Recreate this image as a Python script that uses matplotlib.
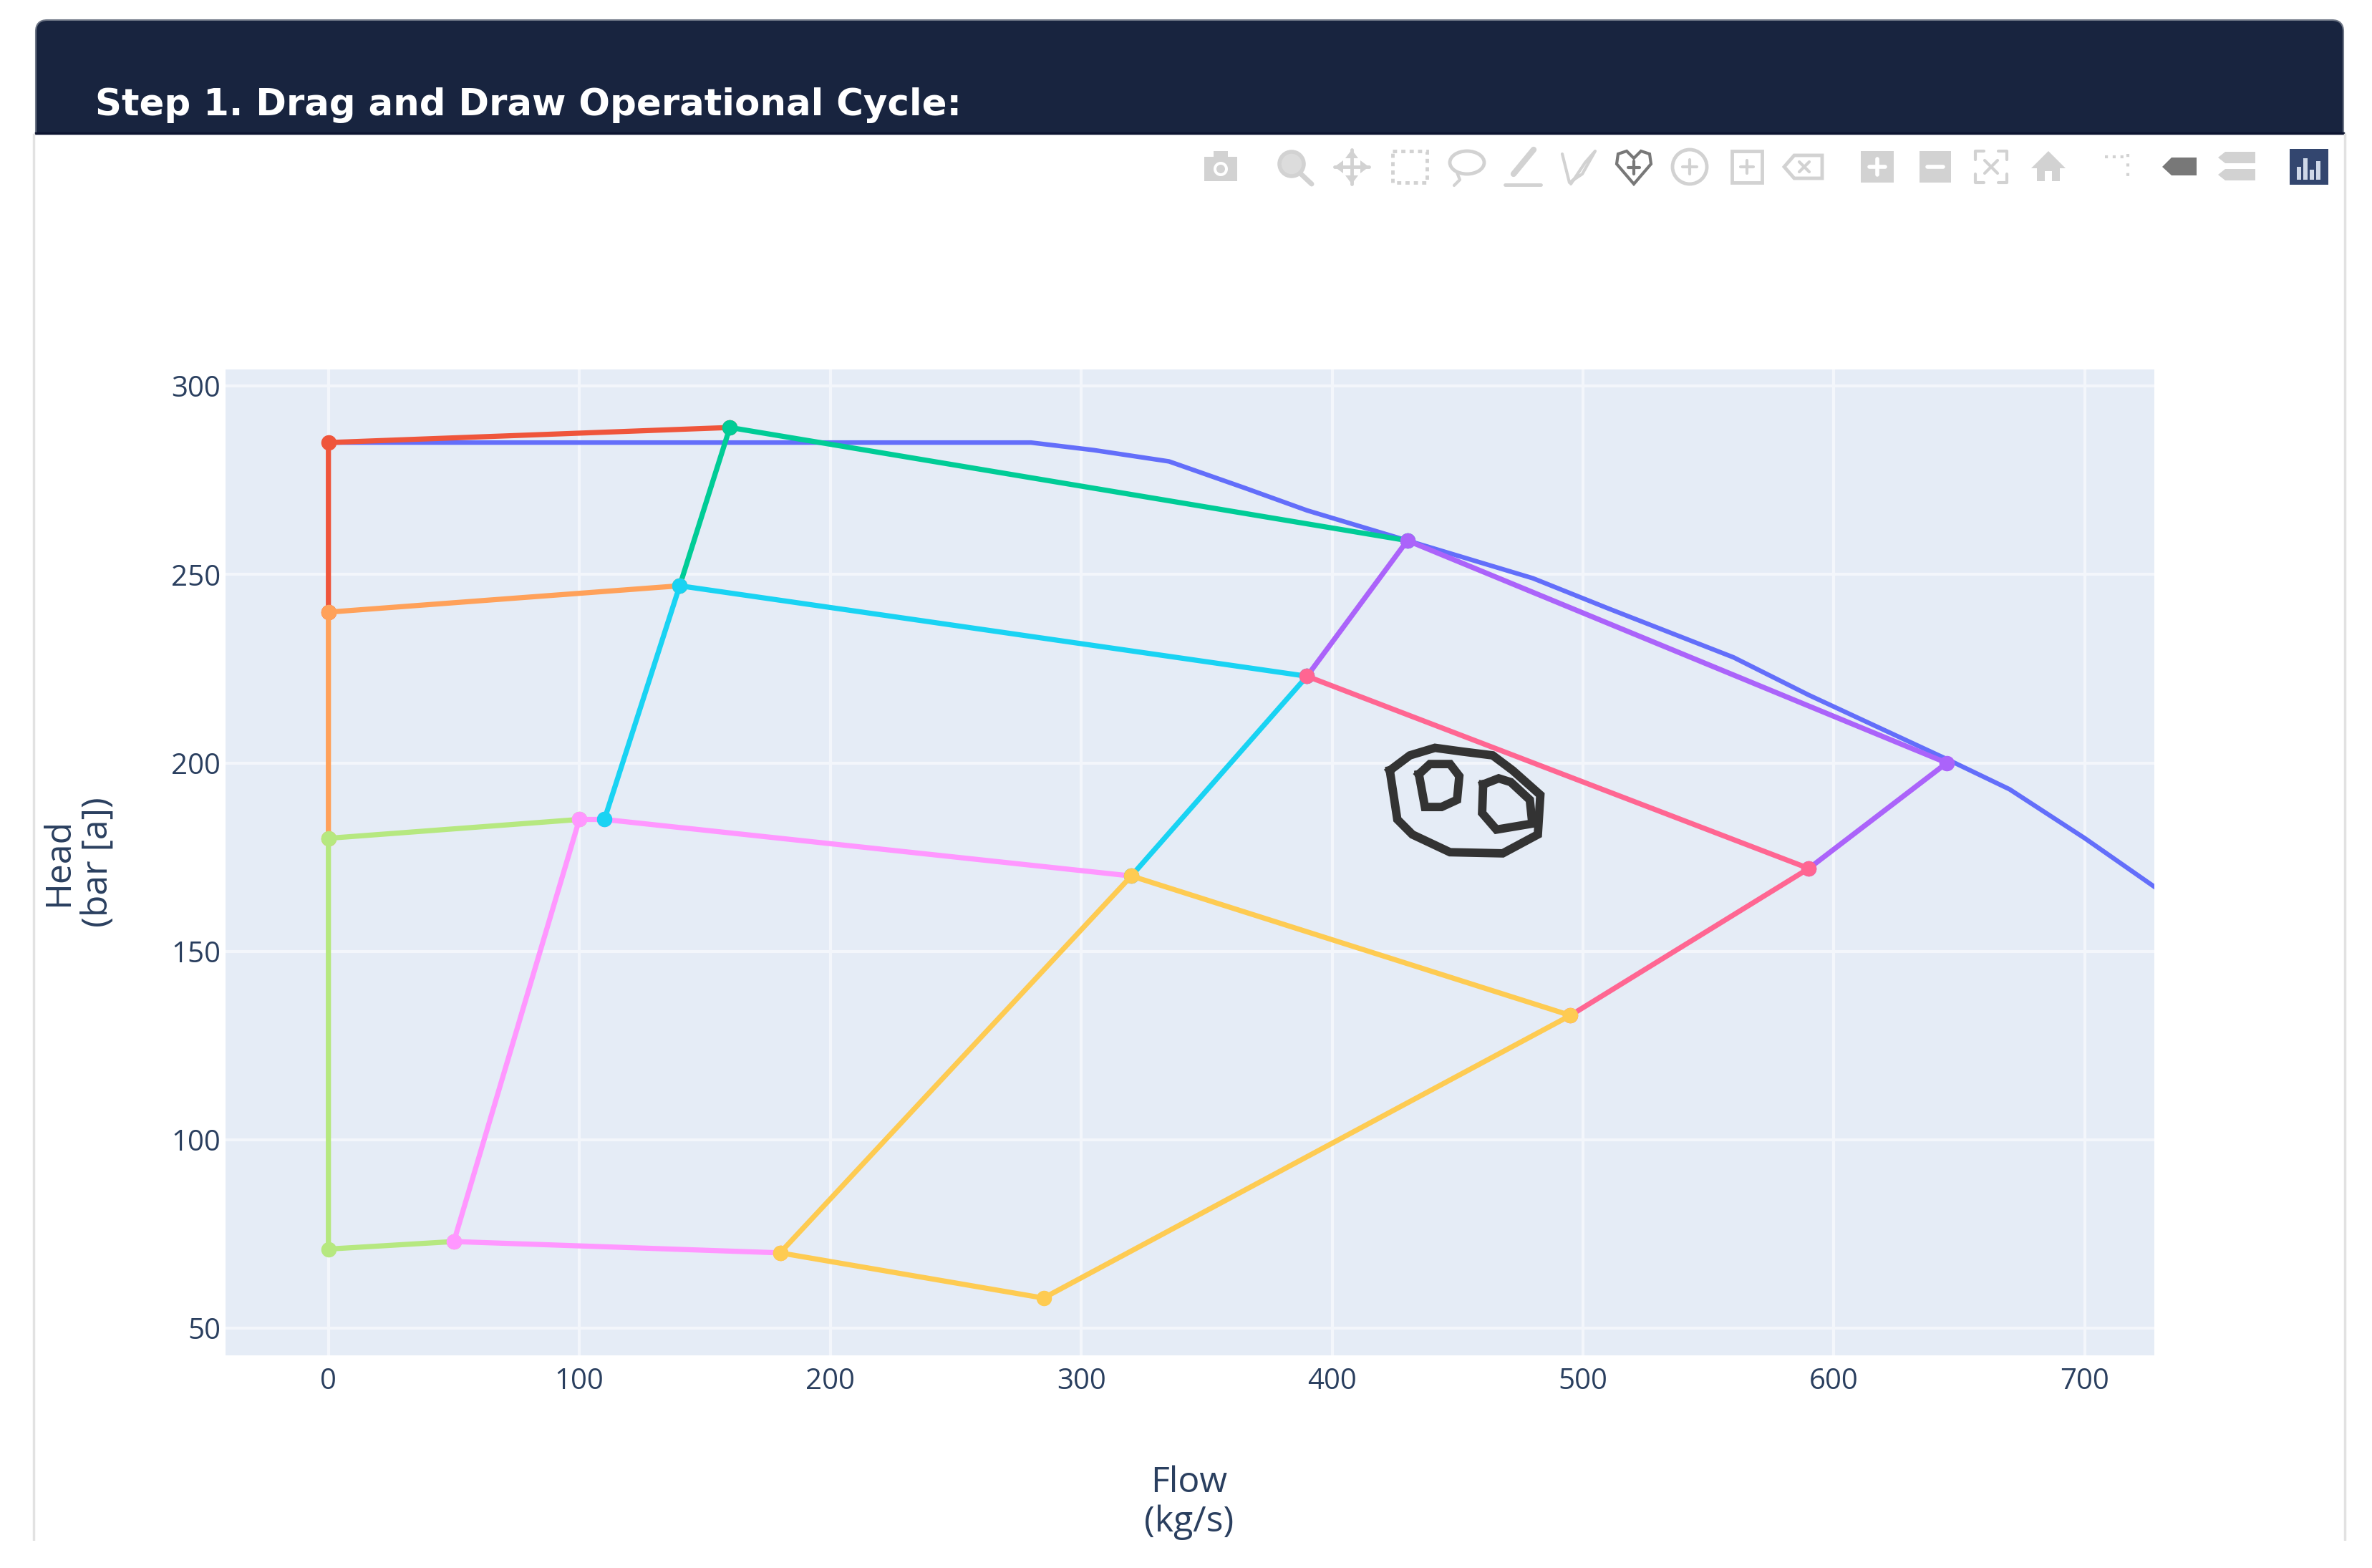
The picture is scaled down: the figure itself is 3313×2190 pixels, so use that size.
import matplotlib as mpl
mpl.use("Agg")
import matplotlib.pyplot as plt
from matplotlib.patches import Rectangle, FancyBboxPatch, Circle, Ellipse, Polygon

plt.rcParams['font.family'] = ['Open Sans', 'DejaVu Sans']

TITLE = "Step 1. Drag and Draw Operational Cycle:"
X_LABEL = "Flow\n(kg/s)"
Y_LABEL = "Head\n(bar [a])"
X_TICKS = [0, 100, 200, 300, 400, 500, 600, 700]
Y_TICKS = [50, 100, 150, 200, 250, 300]

# pump curve
curve_x = [0, 280, 305, 335, 365, 390, 430, 480, 510, 560, 590, 645, 670, 700, 728]
curve_y = [285, 285, 283, 280, 273, 267, 259, 249, 241, 228, 218, 201, 193, 180, 167]

# cycle segments
red_x = [0, 0, 160]
red_y = [240, 285, 289]
green_x = [140, 160, 430]
green_y = [247, 289, 259]
purple_x = [390, 430, 645, 590]
purple_y = [223, 259, 200, 172]
orange_x = [0, 0, 140]
orange_y = [180, 240, 247]
cyan_x = [110, 140, 390, 320]
cyan_y = [185, 247, 223, 170]
pink_x = [390, 590, 495]
pink_y = [223, 172, 133]
lime_x = [100, 0, 0, 50]
lime_y = [185, 180, 71, 73]
violet_x = [320, 110, 100, 50, 180]
violet_y = [170, 185, 185, 73, 70]
yellow_x = [180, 320, 495, 285, 180]
yellow_y = [70, 170, 133, 58, 70]

# hand drawn scribble
outer_x = [423, 431, 441, 452, 464, 472, 483, 482, 468, 447, 432, 426, 423]
outer_y = [198, 202, 204, 203, 202, 198, 191.5, 181, 176, 176.3, 181, 185, 198]
eye1_x = [434.6, 439, 447, 450.7, 449.8, 443.6, 437, 434.6]
eye1_y = [197, 199.7, 199.7, 196.5, 190.2, 188.3, 188.3, 197]
eye2_x = [460.2, 466.4, 471.2, 478.8, 479.8, 465.5, 459.8, 460.2]
eye2_y = [194.3, 195.9, 194.9, 190.2, 183.9, 182.3, 186.7, 194.3]

# drawn in this order, so the later colour owns a shared marker
segments = [
    (red_x, red_y, "#EF553B"),
    (green_x, green_y, "#00CC96"),
    (purple_x, purple_y, "#AB63FA"),
    (orange_x, orange_y, "#FFA15A"),
    (lime_x, lime_y, "#B6E880"),
    (violet_x, violet_y, "#FF97FF"),
    (cyan_x, cyan_y, "#19D3F3"),
    (pink_x, pink_y, "#FF6692"),
    (yellow_x, yellow_y, "#FECB52"),
]

W, H = 3313, 2190
fig = plt.figure(figsize=(W / 100, H / 100), dpi=100, facecolor="white")

# page furniture in pixel coordinates
page = fig.add_axes([0, 0, 1, 1], zorder=0)
page.set_xlim(0, W)
page.set_ylim(H, 0)
page.axis("off")
page.add_patch(FancyBboxPatch((50, 28), 3223, 240, boxstyle="round,pad=0,rounding_size=16",
                              fc="#18243f", ec="#6e7686", lw=1.5))
page.add_patch(Rectangle((0, 188), W, 200, fc="white", ec="none", zorder=2))
page.plot([50, 3273], [186, 186], color="#0c1430", lw=2.5, zorder=3)
page.plot([47, 47], [188, 2152], color="#e2e2e2", lw=2.5, zorder=3)
page.plot([3275, 3275], [188, 2152], color="#e2e2e2", lw=2.5, zorder=3)
page.text(133, 147, TITLE, color="white", fontsize=37, family=["DejaVu Sans"], weight="bold",
          ha="left", va="center", zorder=4)

# modebar icons
GREY = "#d2d2d2"
DARK = "#787878"
IY = 233


def icon_line(xs, ys, color=GREY, lw=3.0, ls="-"):
    page.plot(xs, ys, color=color, lw=lw, ls=ls, zorder=4, solid_capstyle="round")


def box(cx, w, h, color=GREY, dy=0):
    page.add_patch(Rectangle((cx - w / 2, IY - h / 2 + dy), w, h, fc=color, ec="none", zorder=4))


cx = 1705  # camera
box(cx, 46, 34, dy=3)
box(cx, 20, 8, dy=-18)
page.add_patch(Circle((cx, IY + 3), 10, fc="white", ec="none", zorder=5))
page.add_patch(Circle((cx, IY + 3), 6, fc=GREY, ec="none", zorder=6))
cx = 1808  # zoom
page.add_patch(Circle((cx - 4, IY - 4), 17, fc="#dcdcdc", ec=GREY, lw=4, zorder=4))
icon_line([cx + 8, cx + 24], [IY + 9, IY + 24], lw=5)
cx = 1888  # pan
icon_line([cx - 24, cx + 24], [IY, IY], lw=3.5)
icon_line([cx, cx], [IY - 24, IY + 24], lw=3.5)
page.add_patch(Polygon([[cx - 24, IY], [cx - 12, IY - 9], [cx - 12, IY + 9]], fc=GREY, zorder=4))
page.add_patch(Polygon([[cx + 24, IY], [cx + 12, IY - 9], [cx + 12, IY + 9]], fc=GREY, zorder=4))
page.add_patch(Polygon([[cx, IY - 24], [cx - 9, IY - 12], [cx + 9, IY - 12]], fc=GREY, zorder=4))
page.add_patch(Polygon([[cx, IY + 24], [cx - 9, IY + 12], [cx + 9, IY + 12]], fc=GREY, zorder=4))
cx = 1969  # box select
page.add_patch(Rectangle((cx - 24, IY - 22), 48, 44, fc="none", ec=GREY, lw=3.5, ls=(0, (1.2, 1.2)), zorder=4))
cx = 2047  # lasso
page.add_patch(Ellipse((cx + 2, IY - 6), 48, 32, fc="none", ec=GREY, lw=3.5, zorder=4))
icon_line([cx - 12, cx - 8, cx - 16], [IY + 8, IY + 18, IY + 26])
cx = 2128  # draw line
icon_line([cx - 14, cx + 14], [IY + 10, IY - 24], lw=6)
icon_line([cx - 26, cx + 24], [IY + 25, IY + 25], lw=3.5)
cx = 2206  # draw open path
icon_line([cx - 24, cx - 14, cx + 4, cx + 22, cx + 8, cx - 12], [IY - 18, IY + 22, IY + 10, IY - 22, IY - 6, IY + 24])
cx = 2282  # heart, active
page.add_patch(Polygon([[cx, IY + 24], [cx - 24, IY - 4], [cx - 22, IY - 18], [cx - 10, IY - 22], [cx, IY - 12],
                        [cx + 10, IY - 22], [cx + 22, IY - 18], [cx + 24, IY - 4]],
                       fc="none", ec=DARK, lw=3, zorder=4))
icon_line([cx, cx], [IY - 8, IY + 10], color=DARK)
icon_line([cx - 8, cx + 8], [IY + 1, IY + 1], color=DARK)
cx = 2360  # circle
page.add_patch(Circle((cx, IY), 24, fc="none", ec=GREY, lw=3.5, zorder=4))
icon_line([cx - 10, cx + 10], [IY, IY])
icon_line([cx, cx], [IY - 10, IY + 10])
cx = 2440  # rectangle
page.add_patch(Rectangle((cx - 21, IY - 22), 42, 44, fc="none", ec=GREY, lw=3.5, zorder=4))
icon_line([cx - 9, cx + 9], [IY, IY])
icon_line([cx, cx], [IY - 9, IY + 9])
cx = 2519  # erase
page.add_patch(Polygon([[cx - 27, IY], [cx - 13, IY - 16], [cx + 26, IY - 16], [cx + 26, IY + 16], [cx - 13, IY + 16]],
                       fc="none", ec=GREY, lw=3.5, zorder=4))
icon_line([cx - 6, cx + 8], [IY - 7, IY + 7])
icon_line([cx - 6, cx + 8], [IY + 7, IY - 7])
cx = 2622  # zoom in
box(cx, 46, 44)
icon_line([cx - 11, cx + 11], [IY, IY], color="white", lw=4)
icon_line([cx, cx], [IY - 11, IY + 11], color="white", lw=4)
cx = 2703  # zoom out
box(cx, 44, 44)
icon_line([cx - 11, cx + 11], [IY, IY], color="white", lw=4)
cx = 2781  # autoscale
icon_line([cx - 22, cx - 22, cx - 10], [IY - 10, IY - 22, IY - 22])
icon_line([cx + 10, cx + 22, cx + 22], [IY - 22, IY - 22, IY - 10])
icon_line([cx - 22, cx - 22, cx - 10], [IY + 10, IY + 22, IY + 22])
icon_line([cx + 10, cx + 22, cx + 22], [IY + 22, IY + 22, IY + 10])
icon_line([cx - 9, cx + 9], [IY - 9, IY + 9])
icon_line([cx - 9, cx + 9], [IY + 9, IY - 9])
cx = 2861  # home
page.add_patch(Polygon([[cx, IY - 22], [cx + 24, IY + 2], [cx + 16, IY + 2], [cx + 16, IY + 20], [cx + 5, IY + 20],
                        [cx + 5, IY + 6], [cx - 5, IY + 6], [cx - 5, IY + 20], [cx - 16, IY + 20], [cx - 16, IY + 2],
                        [cx - 24, IY + 2]], fc=GREY, ec="none", zorder=4))
cx = 2958  # spikes
icon_line([cx - 18, cx + 14], [IY - 14, IY - 14], ls=(0, (1, 1.6)))
icon_line([cx + 14, cx + 14], [IY - 18, IY + 20], ls=(0, (1, 2.2)))
cx = 3045  # closest
page.add_patch(Polygon([[cx - 25, IY], [cx - 12, IY - 13], [cx + 23, IY - 13], [cx + 23, IY + 12], [cx - 12, IY + 12]],
                       fc=DARK, ec="none", zorder=4))
cx = 3125  # compare
for dy in [-13, 11]:
    page.add_patch(Polygon([[cx - 27, IY + dy], [cx - 17, IY + dy - 8], [cx + 25, IY + dy - 8],
                            [cx + 25, IY + dy + 8], [cx - 17, IY + dy + 8]], fc=GREY, ec="none", zorder=4))
cx = 3225  # plotly logo
box(cx, 54, 50, color="#33466f")
for dx, h in zip([-14, -5, 4, 13], [18, 30, 14, 26]):
    page.add_patch(Rectangle((cx + dx - 3, IY + 18 - h), 6, h, fc="#cfd8e8", ec="none", zorder=5))

# the chart itself
ax = fig.add_axes([315 / W, 1 - 1893 / H, 2694 / W, 1377 / H], zorder=1)
ax.set_facecolor("#E5ECF6")
ax.set_xlim(-41, 727.7)
ax.set_ylim(42.8, 304.4)
for spine in ax.spines.values():
    spine.set_visible(False)
ax.set_xticks(X_TICKS)
ax.set_yticks(Y_TICKS)
ax.grid(True, color="#f3f6fb", lw=3)
ax.set_axisbelow(True)
ax.tick_params(length=0, labelsize=29, labelcolor="#2a3f5f")
ax.tick_params(axis="x", pad=12)
ax.tick_params(axis="y", pad=5)

ax.plot(curve_x, curve_y, color="#636EFA", lw=4.6, zorder=3)
for xs, ys, color in segments:
    ax.plot(xs, ys, color=color, lw=5.2, marker="o", ms=14.5, mec=color, zorder=3)
for xs, ys in [(outer_x, outer_y), (eye1_x, eye1_y), (eye2_x, eye2_y)]:
    ax.plot(xs, ys, color="#333333", lw=8.5, solid_joinstyle="miter", zorder=4)

page2 = fig.add_axes([0, 0, 1, 1], zorder=2)
page2.set_xlim(0, W)
page2.set_ylim(H, 0)
page2.axis("off")
page2.text(1661, 2099, X_LABEL, color="#2a3f5f", fontsize=36, ha="center", va="center", linespacing=1.14)
page2.text(110, 1204, Y_LABEL, color="#2a3f5f", fontsize=36, ha="center", va="center", rotation=90, linespacing=1.14)
# the screenshot ends here
page2.add_patch(Rectangle((0, 2152), W, H - 2152, fc="white", ec="none", zorder=5))

fig.savefig("out.png", dpi=100)
